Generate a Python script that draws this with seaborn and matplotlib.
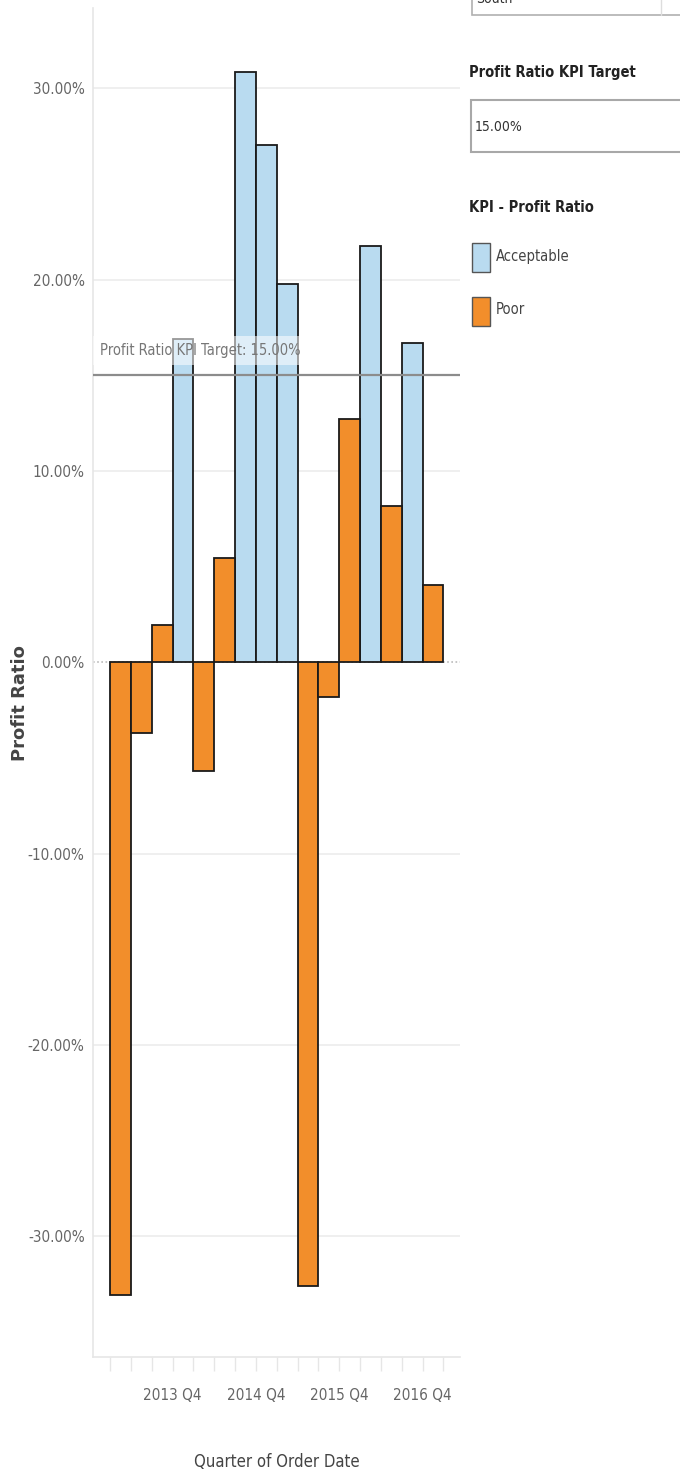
import matplotlib
matplotlib.use("Agg")
import matplotlib.pyplot as plt
from matplotlib.patches import Rectangle
from matplotlib.lines import Line2D
import matplotlib.transforms as mtransforms
import numpy as np
import pandas as pd
import seaborn as sns

# data
quarters = [f"{y} Q{q}" for y in (2013, 2014, 2015, 2016) for q in (1, 2, 3, 4)]
profit_ratio = [-33.05, -3.7, 1.93, 16.9, -5.7, 5.48, 30.86, 27.05,
                19.8, -32.6, -1.83, 12.74, 21.78, 8.2, 16.7, 4.07]
kpi_target = 15.0
kpi_levels = ["Acceptable", "Poor"]
kpi_colors = ["#b9dbf0", "#f28e2b"]
shown_ticks = ["2013 Q4", "2014 Q4", "2015 Q4", "2016 Q4"]

df = pd.DataFrame({
    "quarter": quarters,
    "ratio": profit_ratio,
    "kpi": ["Acceptable" if v >= kpi_target else "Poor" for v in profit_ratio],
})

sns.set_theme(style="white")
plt.rcParams["font.family"] = ["DejaVu Sans"]
plt.rcParams["font.stretch"] = "condensed"

W, H = 680, 1478
fig = plt.figure(figsize=(W / 100, H / 100), dpi=100)


def fx(x):
    return x / W


def fy(y):
    return 1 - y / H


ax = fig.add_axes([fx(93), fy(1357), fx(460) - fx(93), fy(8) - fy(1357)])

sns.barplot(data=df, x="quarter", y="ratio", hue="kpi", hue_order=kpi_levels,
            palette=kpi_colors, saturation=1, dodge=False, width=1.0,
            edgecolor="#1a1a1a", linewidth=1.3, legend=False, ax=ax, zorder=3)

ax.set_ylim(-36.3, 34.2)
ax.set_xlim(-1.32, 16.3)

yt = [30, 20, 10, 0, -10, -20, -30]
ax.set_yticks(yt)
ax.set_yticklabels([f"{v:.2f}%" for v in yt], color="#666666", fontsize=11)
for v in yt:
    if v != 0:
        ax.axhline(v, color="#ececec", lw=1.2, zorder=0)
ax.axhline(0, color="#bbbbbb", lw=1.2, ls=(0, (1, 1.5)), zorder=1)

pos = {q: i for i, q in enumerate(quarters)}
ax.set_xticks([pos[q] - 0.5 for q in shown_ticks])
ax.set_xticklabels(shown_ticks, color="#666666", fontsize=11)
ax.set_xticks(np.arange(len(quarters) + 1) - 0.5, minor=True)
ax.tick_params(axis="x", which="both", length=10, color="#e6e6e6", width=1, pad=12, bottom=True)
ax.tick_params(axis="y", length=0, pad=6)

for s in ["top", "right"]:
    ax.spines[s].set_visible(False)
for s in ["left", "bottom"]:
    ax.spines[s].set_color("#e6e6e6")
    ax.spines[s].set_linewidth(1.2)

# target reference line and its label
ax.axhline(kpi_target, color="#8c8c8c", lw=1.6, zorder=4)
trans = mtransforms.blended_transform_factory(ax.transAxes, ax.transData)
ax.text(0.018, 16.3, f"Profit Ratio KPI Target: {kpi_target:.2f}%", transform=trans,
        fontsize=10.5, color="#777777", va="center", ha="left", zorder=5,
        bbox=dict(facecolor="white", alpha=0.55, edgecolor="none", pad=5))

ax.set_xlabel("Quarter of Order Date", fontsize=12, color="#444444")
ax.xaxis.set_label_coords(0.5, -0.071)
ax.set_ylabel("Profit Ratio", fontsize=13, color="#444444", fontweight="semibold",
              fontstretch="normal")
ax.yaxis.set_label_coords(-0.175, 0.485)

# right-hand panel: partial filter box, parameter control, colour legend
fig.add_artist(Rectangle((fx(472), fy(15)), fx(720) - fx(472), fy(-30) - fy(15),
                         transform=fig.transFigure, facecolor="white",
                         edgecolor="#b0b0b0", lw=1.2))
fig.add_artist(Line2D([fx(661), fx(661)], [fy(15), fy(-5)], transform=fig.transFigure,
                      color="#dddddd", lw=1))
fig.text(fx(476), fy(3), "South", fontsize=10, color="#333333", va="baseline")

fig.text(fx(469), fy(72), "Profit Ratio KPI Target", fontsize=10.5, color="#222222",
         va="center", fontweight="semibold")
fig.add_artist(Rectangle((fx(471), fy(152)), fx(720) - fx(471), fy(100) - fy(152),
                         transform=fig.transFigure, facecolor="white",
                         edgecolor="#a8a8a8", lw=1.5))
fig.text(fx(475), fy(127), f"{kpi_target:.2f}%", fontsize=10, color="#333333", va="center")

fig.text(fx(469), fy(207), "KPI - Profit Ratio", fontsize=10.5, color="#222222",
         va="center", fontweight="semibold")
for i, (lvl, col) in enumerate(zip(kpi_levels, kpi_colors)):
    top = 243 + i * 54
    fig.add_artist(Rectangle((fx(472), fy(top + 29)), fx(490) - fx(472), fy(top) - fy(top + 29),
                             transform=fig.transFigure, facecolor=col,
                             edgecolor="#555555", lw=1.0))
    fig.text(fx(496), fy(top + 13), lvl, fontsize=10.5, color="#444444", va="center")

fig.savefig("out.png", dpi=100)
